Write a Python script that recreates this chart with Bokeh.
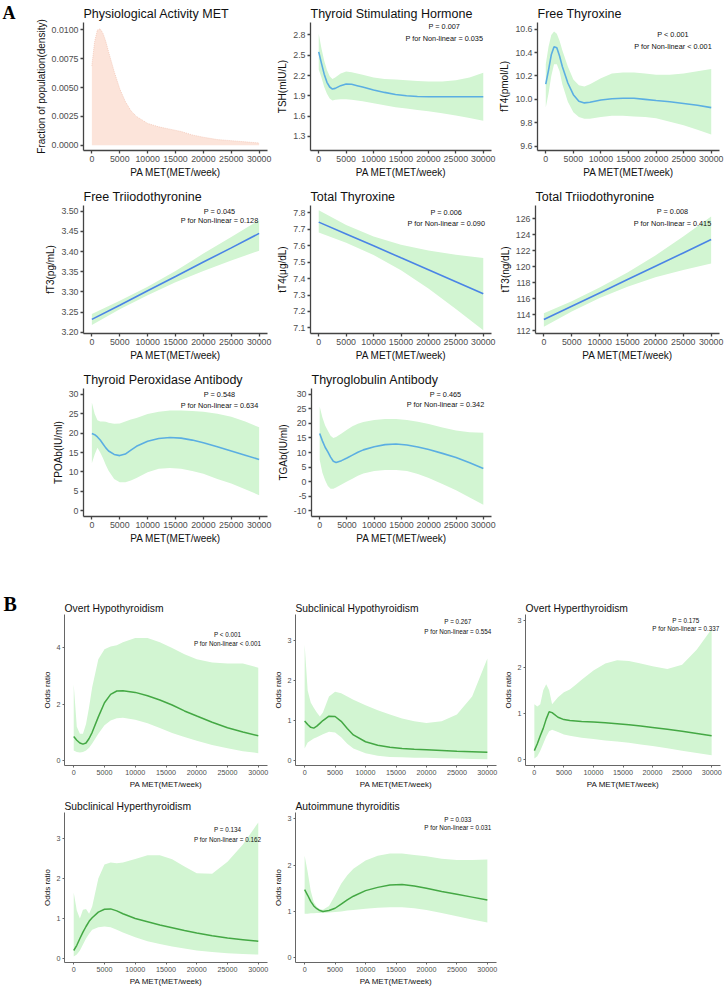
from bokeh.plotting import figure
from bokeh.models import Range1d, FixedTicker, NumeralTickFormatter, Label, Spacer
from bokeh.layouts import row, column
from bokeh.embed import file_html
from bokeh.resources import INLINE

# ---------------- data ----------------
X = [0, 500, 1000, 1500, 2000, 2500, 3000, 4000, 5000, 6000, 7000, 8000,
     10000, 12000, 14000, 16000, 18000, 20000, 22500, 25000, 27500, 30000]
XL = [0, 5000, 10000, 15000, 20000, 25000, 30000]
XTICKS = [0, 5000, 10000, 15000, 20000, 25000, 30000]

density = [0.0069, 0.0090, 0.0100, 0.0101, 0.0097, 0.0090, 0.0081, 0.0064, 0.0049, 0.0038, 0.0030,
           0.0025, 0.0019, 0.0016, 0.0014, 0.0012, 0.0009, 0.0007, 0.0005, 0.0004, 0.0003, 0.0002]

tsh_fit = [2.55, 2.38, 2.22, 2.10, 2.03, 2.00, 2.01, 2.05, 2.075, 2.07, 2.05, 2.03, 1.985, 1.95, 1.92,
           1.90, 1.89, 1.885, 1.885, 1.885, 1.885, 1.885]
tsh_hi = [2.82, 2.60, 2.42, 2.28, 2.19, 2.15, 2.17, 2.23, 2.26, 2.25, 2.23, 2.21, 2.17, 2.15, 2.14,
          2.13, 2.12, 2.11, 2.11, 2.13, 2.17, 2.24]
tsh_lo = [2.29, 2.17, 2.03, 1.93, 1.86, 1.83, 1.84, 1.85, 1.85, 1.84, 1.83, 1.82, 1.79, 1.76, 1.73,
          1.71, 1.69, 1.67, 1.64, 1.61, 1.57, 1.53]

ft4_fit = [10.13, 10.25, 10.38, 10.45, 10.44, 10.37, 10.28, 10.14, 10.04, 9.985, 9.97, 9.975, 9.995,
           10.005, 10.01, 10.01, 10.0, 9.99, 9.98, 9.965, 9.95, 9.93]
ft4_hi = [10.30, 10.45, 10.55, 10.58, 10.56, 10.50, 10.42, 10.28, 10.17, 10.12, 10.11, 10.13, 10.18,
          10.22, 10.23, 10.23, 10.22, 10.21, 10.21, 10.22, 10.24, 10.26]
ft4_lo = [9.93, 10.05, 10.20, 10.30, 10.30, 10.24, 10.13, 9.98, 9.89, 9.85, 9.835, 9.835, 9.85, 9.86,
          9.86, 9.855, 9.85, 9.84, 9.81, 9.78, 9.74, 9.70]

ft3_fit = [3.232, 3.267, 3.303, 3.338, 3.374, 3.409, 3.445]
ft3_hi = [3.245, 3.278, 3.313, 3.352, 3.395, 3.436, 3.478]
ft3_lo = [3.218, 3.257, 3.292, 3.324, 3.352, 3.378, 3.402]

tt4_fit = [7.743, 7.671, 7.599, 7.526, 7.454, 7.381, 7.308]
tt4_hi = [7.815, 7.725, 7.655, 7.605, 7.570, 7.545, 7.525]
tt4_lo = [7.680, 7.617, 7.543, 7.450, 7.340, 7.215, 7.085]

tt3_fit = [113.4, 115.07, 116.73, 118.4, 120.07, 121.73, 123.4]
tt3_hi = [114.2, 115.7, 117.4, 119.3, 121.4, 123.8, 126.3]
tt3_lo = [112.5, 114.4, 116.1, 117.5, 118.7, 119.6, 120.4]

tpo_fit = [19.9, 19.6, 19.0, 18.2, 17.2, 16.2, 15.4, 14.5, 14.2, 14.6, 15.6, 16.6, 17.9, 18.6, 18.85,
           18.7, 18.2, 17.5, 16.5, 15.4, 14.3, 13.2]
tpo_hi = [27.9, 25.0, 23.3, 23.0, 23.0, 22.9, 22.7, 22.4, 22.5, 23.0, 23.5, 23.9, 24.9, 25.5, 25.8,
          25.8, 25.7, 25.5, 25.0, 24.2, 23.0, 21.5]
tpo_lo = [12.2, 14.5, 16.2, 15.0, 13.5, 11.8, 10.3, 8.2, 7.3, 7.3, 7.8, 8.4, 9.9, 10.8, 11.0, 10.8,
          10.2, 9.5, 8.2, 7.0, 5.5, 4.0]

tg_fit = [16.5, 14.0, 11.8, 10.2, 8.4, 7.0, 6.6, 7.2, 8.1, 9.1, 10.1, 10.9, 12.0, 12.7, 12.9, 12.6,
          11.9, 11.0, 9.7, 8.3, 6.5, 4.5]
tg_hi = [25.8, 22.0, 19.3, 17.5, 15.8, 15.0, 15.3, 16.5, 17.8, 19.0, 19.9, 20.5, 21.2, 21.5, 21.5,
         21.2, 20.6, 19.8, 18.6, 17.6, 17.0, 16.8]
tg_lo = [7.5, 3.0, 0.5, -1.5, -2.5, -2.5, -2.0, -1.0, 0.0, 1.0, 2.0, 2.8, 3.6, 4.0, 4.0, 3.6, 2.6,
         1.2, -0.8, -3.0, -5.5, -8.0]

oh_fit = [0.85, 0.72, 0.62, 0.58, 0.62, 0.78, 1.0, 1.55, 2.05, 2.35, 2.47, 2.48, 2.42, 2.30, 2.15,
          1.97, 1.76, 1.58, 1.36, 1.16, 1.01, 0.88]
oh_hi = [2.7, 1.2, 0.95, 0.95, 1.3, 1.9, 2.6, 3.6, 3.95, 4.05, 4.1, 4.2, 4.35, 4.35, 4.2, 4.0, 3.78,
         3.6, 3.48, 3.45, 3.45, 3.3]
oh_lo = [0.35, 0.3, 0.28, 0.3, 0.35, 0.45, 0.6, 0.95, 1.25, 1.42, 1.5, 1.52, 1.45, 1.32, 1.15, 0.98,
         0.83, 0.7, 0.55, 0.43, 0.33, 0.26]

sh_fit = [0.99, 0.90, 0.83, 0.81, 0.86, 0.93, 1.0, 1.11, 1.10, 0.98, 0.80, 0.64, 0.47, 0.38, 0.33,
          0.30, 0.28, 0.27, 0.25, 0.23, 0.22, 0.21]
sh_hi = [2.9, 1.75, 1.45, 1.32, 1.2, 1.1, 1.2, 1.6, 1.72, 1.68, 1.6, 1.52, 1.38, 1.26, 1.15, 1.05,
         0.98, 0.94, 0.98, 1.15, 1.6, 2.55]
sh_lo = [0.3, 0.45, 0.5, 0.55, 0.58, 0.62, 0.66, 0.72, 0.7, 0.58, 0.42, 0.3, 0.18, 0.12, 0.09, 0.08,
         0.07, 0.07, 0.06, 0.05, 0.04, 0.03]

ohy_fit = [0.2, 0.35, 0.52, 0.68, 0.88, 1.04, 1.02, 0.92, 0.87, 0.85, 0.84, 0.83, 0.82, 0.80, 0.78,
           0.76, 0.73, 0.70, 0.66, 0.62, 0.57, 0.52]
ohy_hi = [1.2, 1.15, 1.2, 1.5, 1.63, 1.5, 1.2, 1.35, 1.46, 1.52, 1.62, 1.73, 1.93, 2.08, 2.15, 2.13,
          2.08, 2.02, 1.96, 2.05, 2.38, 2.82]
ohy_lo = [0.03, 0.08, 0.2, 0.35, 0.5, 0.62, 0.65, 0.6, 0.55, 0.52, 0.5, 0.48, 0.45, 0.42, 0.4, 0.37,
          0.33, 0.3, 0.25, 0.2, 0.15, 0.1]

shy_fit = [0.2, 0.33, 0.5, 0.66, 0.8, 0.93, 1.02, 1.16, 1.23, 1.24, 1.19, 1.12, 1.0, 0.92, 0.84, 0.77,
           0.70, 0.64, 0.57, 0.51, 0.47, 0.43]
shy_hi = [1.65, 1.2, 1.0, 1.22, 1.24, 1.12, 1.3, 2.0, 2.35, 2.4, 2.38, 2.4, 2.49, 2.58, 2.58, 2.48,
          2.3, 2.13, 2.12, 2.42, 2.85, 3.4]
shy_lo = [0.05, 0.1, 0.2, 0.35, 0.5, 0.62, 0.72, 0.78, 0.8, 0.78, 0.72, 0.65, 0.53, 0.43, 0.36, 0.3,
          0.25, 0.2, 0.16, 0.13, 0.11, 0.1]

ait_fit = [1.47, 1.35, 1.22, 1.12, 1.06, 1.02, 1.0, 1.02, 1.07, 1.16, 1.25, 1.33, 1.45, 1.52, 1.57,
           1.58, 1.55, 1.50, 1.43, 1.37, 1.31, 1.25]
ait_hi = [2.2, 1.85, 1.45, 1.2, 1.1, 1.05, 1.04, 1.12, 1.35, 1.6, 1.78, 1.92, 2.1, 2.2, 2.25, 2.25,
          2.22, 2.19, 2.14, 2.11, 2.11, 2.12]
ait_lo = [0.95, 0.95, 0.96, 0.96, 0.97, 0.97, 0.97, 0.98, 0.99, 1.0, 1.02, 1.03, 1.06, 1.08, 1.09,
          1.09, 1.07, 1.03, 0.97, 0.9, 0.83, 0.76]

# ---------------- styles ----------------
FONT = "Liberation Sans"
BAND = "#D2F5D2"
BLUE_L = "#5BAEE2"
BLUE_D = "#4A84E6"
GREEN = "#44A844"

STYLE_A = dict(title="12.5px", axis="10px", tick="8.8px", ptxt="7.3px", axw=1.3, tout=3,
               lw=1.6, axc="#444444", tstand=3)
STYLE_B = dict(title="10.3px", axis="8px", tick="7.2px", ptxt="6.3px", axw=1.0, tout=2,
               lw=1.5, axc="#666666", tstand=2)

XR = (-1500, 31500)


def make_panel(fig_box, frame_box, yr, yticks, yfmt, title, ylabel, st):
    fx0, fy0, fx1, fy1 = fig_box
    l, t, r, b = frame_box
    p = figure(width=fx1 - fx0, height=fy1 - fy0, output_backend="svg", toolbar_location=None,
               x_range=Range1d(*XR), y_range=Range1d(*yr),
               min_border_left=l - fx0, min_border_right=fx1 - r,
               min_border_top=t - fy0, min_border_bottom=fy1 - b, title=title)
    p.outline_line_color = None
    p.background_fill_color = "white"
    p.border_fill_color = "white"
    p.xgrid.grid_line_color = None
    p.ygrid.grid_line_color = None
    p.title.text_font = FONT
    p.title.text_font_size = st["title"]
    p.title.text_font_style = "normal"
    p.title.text_color = "#111111"
    p.title.align = "left"
    p.title.offset = 0
    p.title.standoff = st["tstand"]
    p.xaxis.ticker = FixedTicker(ticks=XTICKS)
    p.yaxis.ticker = FixedTicker(ticks=yticks)
    p.yaxis.formatter = NumeralTickFormatter(format=yfmt)
    p.xaxis.axis_label = "PA MET(MET/week)"
    p.yaxis.axis_label = ylabel
    for ax in (p.xaxis[0], p.yaxis[0]):
        ax.axis_label_text_font = FONT
        ax.axis_label_text_font_size = st["axis"]
        ax.axis_label_text_font_style = "normal"
        ax.axis_label_text_color = "#111111"
        ax.axis_label_standoff = 2
        ax.major_label_text_font = FONT
        ax.major_label_text_font_size = st["tick"]
        ax.major_label_text_color = "#4D4D4D"
        ax.major_label_standoff = 2
        ax.axis_line_color = st["axc"]
        ax.axis_line_width = st["axw"]
        ax.major_tick_line_color = st["axc"]
        ax.major_tick_line_width = st["axw"]
        ax.major_tick_out = st["tout"]
        ax.major_tick_in = 0
        ax.minor_tick_line_color = None
    return p


def letter_fig(w, h, letter, left, size):
    # the panel letter is drawn as the title of a narrow, axis-less figure;
    # its height stays within the row's top border so the frames stay aligned
    p = figure(width=w, height=h, output_backend="svg", toolbar_location=None, title=letter,
               x_range=Range1d(0, 1), y_range=Range1d(0, 1),
               min_border_top=0, min_border_bottom=0, min_border_left=0, min_border_right=0,
               x_axis_location=None, y_axis_location=None)
    p.outline_line_color = None
    p.background_fill_color = "white"
    p.border_fill_color = "white"
    p.grid.visible = False
    p.title.text_font = "Liberation Serif"
    p.title.text_font_size = size
    p.title.text_font_style = "bold"
    p.title.text_color = "#000000"
    p.title.align = "left"
    p.title.offset = left
    p.title.standoff = 0
    return p


def to_data(frame_box, yr, px, py):
    l, t, r, b = frame_box
    xd = XR[0] + (px - l) / (r - l) * (XR[1] - XR[0])
    yd = yr[0] + (b - py) / (b - t) * (yr[1] - yr[0])
    return xd, yd


def add_ptext(p, frame_box, yr, pos, lines, st):
    cx, y1, y2 = pos
    for txt, yy in zip(lines, (y1, y2)):
        xd, yd = to_data(frame_box, yr, cx, yy)
        p.add_layout(Label(x=xd, y=yd, text=txt, text_align="center", text_baseline="middle",
                           text_font=FONT, text_font_size=st["ptxt"], text_color="#111111"))


def curve_panel(fig_box, frame_box, yr, yticks, yfmt, title, ylabel, st, xs, fit, lo, hi,
                color, ppos, plines):
    p = make_panel(fig_box, frame_box, yr, yticks, yfmt, title, ylabel, st)
    p.varea(x=xs, y1=lo, y2=hi, fill_color=BAND, fill_alpha=1.0)
    p.line(xs, fit, line_color=color, line_width=st["lw"])
    add_ptext(p, frame_box, yr, ppos, plines, st)
    return p


# ---------------- geometry (page pixel boxes) ----------------
LW = 26  # width of the panel-letter strip
A1y, A2y, A3y = (0, 182, 21, 150), (182, 364, 205, 333), (364, 550, 388, 516)
B1y, B2y = (590, 793, 613, 765), (793, 990, 812, 962)
A_cols = [((LW, 274), (83, 267)), ((274, 496), (307, 491)), ((496, 728), (535, 719))]
A_col0 = ((0, 274), (83, 267))
B_cols = [((LW, 270), (64, 267)), ((270, 500), (293, 496)), ((500, 728), (523, 720))]
B_col0 = ((0, 270), (64, 267))


def boxes(col, rowy):
    (fx0, fx1), (l, r) = col
    fy0, fy1, t, b = rowy
    return (fx0, fy0, fx1, fy1), (l, t, r, b)


# Row A1
la = letter_fig(LW, A1y[1] - A1y[0], "A", 2, "18px")
fb, fr = boxes(A_cols[0], A1y)
yr_d = (-0.00045, 0.01065)
p1 = make_panel(fb, fr, yr_d, [0, 0.0025, 0.005, 0.0075, 0.01], "0.0000",
                "Physiological Activity MET", "Fraction of population(density)", STYLE_A)
p1.varea(x=X, y1=0, y2=density, fill_color="#FCE4DA", fill_alpha=1.0)
p1.line(X, density, line_color="#F3C6B6", line_width=0.8, line_dash="1 1")

fb, fr = boxes(A_cols[1], A1y)
p2 = curve_panel(fb, fr, (1.09, 2.985), [1.3, 1.6, 1.9, 2.2, 2.5, 2.8], "0.0",
                 "Thyroid Stimulating Hormone", "TSH(mIU/L)", STYLE_A, X, tsh_fit, tsh_lo, tsh_hi,
                 BLUE_L, (443, 25, 36.7), ["P = 0.007", "P for Non-linear = 0.035"])

fb, fr = boxes(A_cols[2], A1y)
p3 = curve_panel(fb, fr, (9.564, 10.656), [9.6, 9.8, 10.0, 10.2, 10.4, 10.6], "0.0",
                 "Free Thyroxine", "fT4(pmol/L)", STYLE_A, X, ft4_fit, ft4_lo, ft4_hi,
                 BLUE_L, (672, 33.3, 45), ["P < 0.001", "P for Non-linear < 0.001"])

# Row A2
fb, fr = boxes(A_col0, A2y)
p4 = curve_panel(fb, fr, (3.197, 3.514), [3.20, 3.25, 3.30, 3.35, 3.40, 3.45, 3.50], "0.00",
                 "Free Triiodothyronine", "fT3(pg/mL)", STYLE_A, XL, ft3_fit, ft3_lo, ft3_hi,
                 BLUE_D, (219, 210.7, 219.7), ["P = 0.045", "P for Non-linear = 0.128"])

fb, fr = boxes(A_cols[1], A2y)
p5 = curve_panel(fb, fr, (7.066, 7.844), [7.1, 7.2, 7.3, 7.4, 7.5, 7.6, 7.7, 7.8], "0.0",
                 "Total Thyroxine", "tT4(\u03bcg/dL)", STYLE_A, XL, tt4_fit, tt4_lo, tt4_hi,
                 BLUE_D, (445, 212.3, 223.3), ["P = 0.006", "P for Non-linear = 0.090"])

fb, fr = boxes(A_cols[2], A2y)
p6 = curve_panel(fb, fr, (111.66, 127.66), [112, 114, 116, 118, 120, 122, 124, 126], "0",
                 "Total Triiodothyronine", "tT3(ng/dL)", STYLE_A, XL, tt3_fit, tt3_lo, tt3_hi,
                 BLUE_D, (672, 210.7, 222.7), ["P = 0.008", "P for Non-linear = 0.415"])

# Row A3
fb, fr = boxes(A_col0, A3y)
p7 = curve_panel(fb, fr, (-1.5, 31.5), [0, 5, 10, 15, 20, 25, 30], "0",
                 "Thyroid Peroxidase Antibody", "TPOAb(IU/ml)", STYLE_A, X, tpo_fit, tpo_lo, tpo_hi,
                 BLUE_L, (219, 394, 405), ["P = 0.548", "P for Non-linear = 0.634"])

fb, fr = boxes(A_cols[1], A3y)
p8 = curve_panel(fb, fr, (-12, 32), [-10, -5, 0, 5, 10, 15, 20, 25, 30], "0",
                 "Thyroglobulin Antibody", "TGAb(IU/ml)", STYLE_A, X, tg_fit, tg_lo, tg_hi,
                 BLUE_L, (444, 394, 404.3), ["P = 0.465", "P for Non-linear = 0.342"])

# Row B1
lb = letter_fig(LW, B1y[1] - B1y[0], "B", 3, "20px")
fb, fr = boxes(B_cols[0], B1y)
b1 = curve_panel(fb, fr, (-0.18, 5.19), [0, 2, 4], "0", "Overt Hypothyroidism", "Odds ratio",
                 STYLE_B, X, oh_fit, oh_lo, oh_hi, GREEN, (227, 632.7, 641.7),
                 ["P < 0.001", "P for Non-linear < 0.001"])

fb, fr = boxes(B_cols[1], B1y)
b2 = curve_panel(fb, fr, (-0.124, 3.65), [0, 1, 2, 3], "0", "Subclinical Hypothyroidism",
                 "Odds ratio", STYLE_B, X, sh_fit, sh_lo, sh_hi, GREEN, (457, 620, 630),
                 ["P = 0.267", "P for Non-linear = 0.554"])

fb, fr = boxes(B_cols[2], B1y)
b3 = curve_panel(fb, fr, (-0.12, 3.135), [0, 1, 2, 3], "0", "Overt Hyperthyroidism",
                 "Odds ratio", STYLE_B, X, ohy_fit, ohy_lo, ohy_hi, GREEN, (685, 619, 627.3),
                 ["P = 0.175", "P for Non-linear = 0.337"])

# Row B2
fb, fr = boxes(B_col0, B2y)
b4 = curve_panel(fb, fr, (-0.1, 3.65), [0, 1, 2, 3], "0", "Subclinical Hyperthyroidism",
                 "Odds ratio", STYLE_B, X, shy_fit, shy_lo, shy_hi, GREEN, (227, 829, 838.7),
                 ["P = 0.134", "P for Non-linear = 0.162"])

fb, fr = boxes(B_cols[1], B2y)
b5 = curve_panel(fb, fr, (-0.1, 3.135), [0, 1, 2, 3], "0", "Autoimmune thyroiditis",
                 "Odds ratio", STYLE_B, X, ait_fit, ait_lo, ait_hi, GREEN, (457, 819, 827),
                 ["P = 0.033", "P for Non-linear = 0.031"])

layout = column(
    row(la, p1, p2, p3),
    row(p4, p5, p6),
    row(p7, p8),
    Spacer(width=728, height=B1y[0] - A3y[1]),
    row(lb, b1, b2, b3),
    row(b4, b5),
)

open("out.html", "w").write(file_html(layout, INLINE))
